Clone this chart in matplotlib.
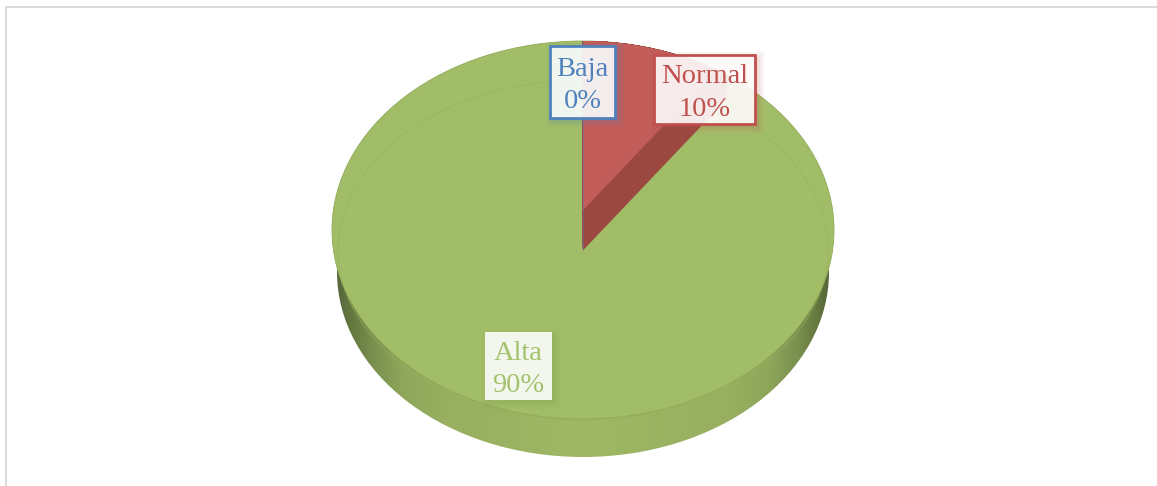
import numpy as np
import matplotlib
matplotlib.use("Agg")
import matplotlib.pyplot as plt
from matplotlib.patches import Wedge, Ellipse, Rectangle
from matplotlib.transforms import Affine2D
from matplotlib.colors import LinearSegmentedColormap

categories = ["Baja", "Normal", "Alta"]
values = [0, 10, 90]
top_colors = ["#4f81bd", "#c0504d", "#9bbb59"]
face_colors = ["#4f81bd", "#c25d5a", "#a2bd68"]
dark_colors = ["#4f81bd", "#9a4840", "#9bb561"]
text_colors = ["#4f81bd", "#c0504d", "#a3c26c"]

W, H = 1157, 486
fig = plt.figure(figsize=(W / 100, H / 100), dpi=100, facecolor="white")
ax = fig.add_axes([0, 0, 1, 1])
ax.set_xlim(0, W)
ax.set_ylim(H, 0)
ax.axis("off")

# frame
ax.plot([6, W], [7, 7], color="#d9d9d9", lw=1.4, zorder=1)
ax.plot([6, 6], [7, H], color="#d9d9d9", lw=1.4, zorder=1)

CX = 583
def ell(cy, rx, ry):
    return Affine2D().scale(rx, -ry).translate(CX, cy) + ax.transData

# side wall with horizontal shading
cmap = LinearSegmentedColormap.from_list("side", [
    (0.00, "#56683a"), (0.03, "#66793f"), (0.07, "#788f4e"), (0.13, "#8ea65a"), (0.22, "#97af5f"),
    (0.50, "#9eb865"), (0.80, "#97af5f"), (0.88, "#8ea65a"), (0.94, "#788f4e"), (0.975, "#66793f"), (1.00, "#56683a")])
grad = np.linspace(0, 1, 512)[None, :]
side = Ellipse((0, 0), 2, 2, transform=ell(272, 246, 185), facecolor="none", edgecolor="none")
ax.add_patch(side)
im = ax.imshow(grad, cmap=cmap, extent=(337, 829, 460, 200), aspect="auto", zorder=2)
im.set_clip_path(side)
ax.set_xlim(0, W)
ax.set_ylim(H, 0)

# main silhouette
rim = Ellipse((0, 0), 2, 2, transform=ell(230, 251, 189),
              facecolor=face_colors[2], edgecolor="#8fab58", lw=0.6, zorder=3)
ax.add_patch(rim)
clip_rim = Ellipse((0, 0), 2, 2, transform=ell(230, 251, 189), facecolor="none", edgecolor="none")
ax.add_patch(clip_rim)
# inner bevel line
ax.add_patch(Ellipse((0, 0), 2, 2, transform=ell(250, 245, 170),
                     facecolor="none", edgecolor="#97b260", lw=0.4, zorder=4))

# slices, clockwise from twelve o'clock
total = sum(values)
start = 0.0
for name, v, face, dark in zip(categories, values, face_colors, dark_colors):
    sweep = 360.0 * v / total
    if 0 < sweep < 300:
        t1, t2 = 90 - start - sweep, 90 - start
        for cy in np.arange(250, 210, -1.0):
            w = Wedge((0, 0), 1, t1, t2, transform=ell(cy, 245, 187),
                      facecolor=dark, edgecolor=dark, lw=0.3, zorder=5)
            ax.add_patch(w)
            w.set_clip_path(clip_rim)
        w = Wedge((0, 0), 1, t1, t2, transform=ell(210, 245, 187),
                  facecolor=face, edgecolor=face, lw=0.3, zorder=6)
        ax.add_patch(w)
        w.set_clip_path(clip_rim)
    start += sweep
# zero-size slice seam
ax.plot([CX, CX], [41, 250], color=top_colors[0], lw=0.5, alpha=0.6, zorder=7)

# labels
boxes = {"Baja": (550, 46, 65, 72, True), "Normal": (654, 55, 101, 69, True), "Alta": (485, 332, 67, 68, False)}
for name, v, ec, tc in zip(categories, values, top_colors, text_colors):
    x, y, w, h, edged = boxes[name]
    for g, a in zip([6, 4, 2, 0], [0.05, 0.06, 0.07, 0.09]):
        ax.add_patch(Rectangle((x + 3 - g, y + 3 - g), w + 2 * g, h + 2 * g,
                               facecolor=ec if edged else "#7f9a48", edgecolor="none", alpha=a, zorder=8))
    ax.add_patch(Rectangle((x, y), w, h, facecolor="white", alpha=0.89, edgecolor="none", zorder=9))
    if edged:
        ax.add_patch(Rectangle((x, y), w, h, facecolor="none", edgecolor=ec, lw=2.0, zorder=10))
    ax.text(x + w / 2, y + h / 2 + 3.5, f"{name}\n{v}%", ha="center", va="center", color=tc,
            fontsize=20.5, family="Liberation Serif", linespacing=1.4, zorder=11)

fig.savefig("out.png", dpi=100)
